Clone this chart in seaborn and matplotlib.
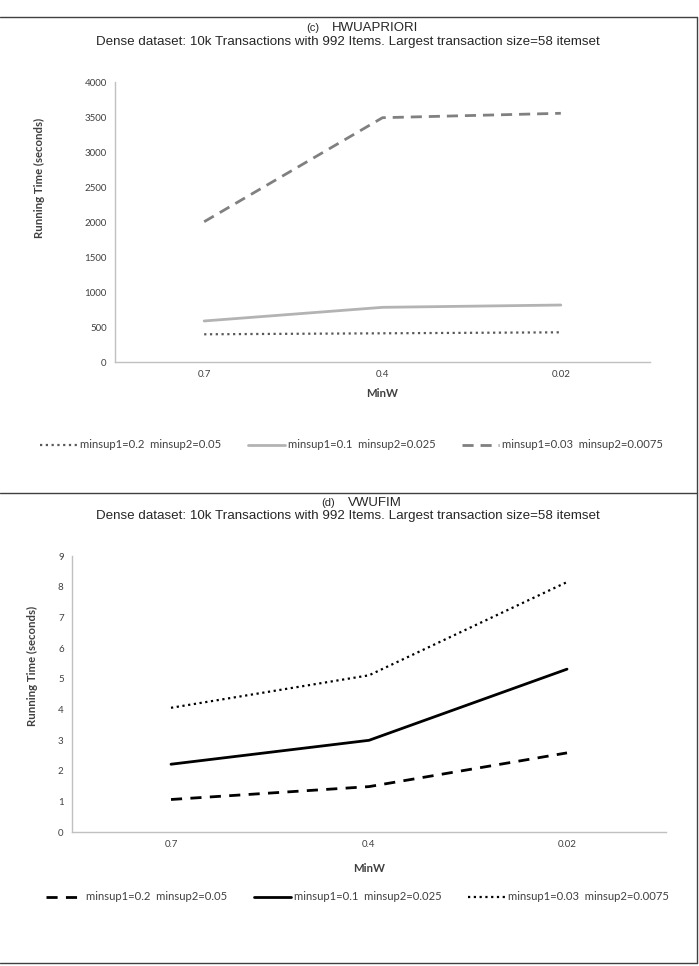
import pandas as pd
import matplotlib.pyplot as plt
import seaborn as sns
from matplotlib.lines import Line2D

# data
minw = ['0.7', '0.4', '0.02']
series_labels = ['minsup1=0.2  minsup2=0.05',
                 'minsup1=0.1  minsup2=0.025',
                 'minsup1=0.03  minsup2=0.0075']

hwu_times = [
    [396, 410, 424],
    [586, 781, 814],
    [2004, 3490, 3553],
]
vwu_times = [
    [1.06, 1.48, 2.58],
    [2.21, 2.99, 5.31],
    [4.05, 5.11, 8.15],
]

subtitle = 'Dense dataset: 10k Transactions with 992 Items. Largest transaction size=58 itemset'

sns.set_style('white')
plt.rcParams['font.family'] = ['Lato', 'DejaVu Sans']

fig = plt.figure(figsize=(6.99, 9.66), dpi=100)
W, H = 699, 966


def px_axes(x0, y_top, x1, y_bot):
    return fig.add_axes([x0 / W, 1 - y_bot / H, (x1 - x0) / W, (y_bot - y_top) / H])


def long_df(values):
    rows = []
    for lab, vals in zip(series_labels, values):
        for m, v in zip(minw, vals):
            rows.append({'MinW': m, 'time': v, 'series': lab})
    return pd.DataFrame(rows)


def style_axes(ax, ymax, ystep, ylab_xy, xpad):
    ax.set_xlim(-0.5, 2.5)
    ax.set_ylim(0, ymax)
    ax.set_yticks(range(0, ymax + 1, ystep))
    for s in ['top', 'right']:
        ax.spines[s].set_visible(False)
    for s in ['left', 'bottom']:
        ax.spines[s].set_color('#c0c0c0')
        ax.spines[s].set_linewidth(1)
    ax.tick_params(length=0, labelsize=7, labelcolor='#404040', pad=6)
    ax.set_xlabel('MinW', fontsize=8.2, fontweight='bold', color='#404040', labelpad=xpad)
    ax.set_ylabel('Running Time (seconds)', fontsize=8.2, fontweight='bold', color='#404040')
    ax.yaxis.set_label_coords(*ylab_xy)


def plot_panel(ax, values, styles):
    df = long_df(values)
    for lab, st in zip(series_labels, styles):
        sns.lineplot(data=df[df['series'] == lab], x='MinW', y='time', ax=ax,
                     sort=False, label=lab, **st)
    h, l = ax.get_legend_handles_labels()
    if ax.get_legend():
        ax.get_legend().remove()
    return h, l


# ---- top panel: HWUAPRIORI ----
ax1 = px_axes(115, 82, 650, 362)
top_styles = [
    dict(color='#595959', linestyle=(0, (1, 1.6)), linewidth=1.6),
    dict(color='#b3b3b3', linestyle='-', linewidth=2.0),
    dict(color='#808080', linestyle=(0, (4, 2.5)), linewidth=2.0),
]
h1, l1 = plot_panel(ax1, hwu_times, top_styles)
style_axes(ax1, 4000, 500, (-0.13, 0.657), 6.5)

# ---- bottom panel: VWUFIM ----
ax2 = px_axes(72, 556, 666, 832)
bot_styles = [
    dict(color='black', linestyle=(0, (4, 3)), linewidth=2.0),
    dict(color='black', linestyle='-', linewidth=2.0),
    dict(color='black', linestyle=(0, (1, 1.6)), linewidth=1.6),
]
h2, l2 = plot_panel(ax2, vwu_times, bot_styles)
style_axes(ax2, 9, 1, (-0.0566, 0.601), 9.5)

# legends
leg_kw = dict(ncol=3, frameon=False, fontsize=8.1, handlelength=3.3,
              columnspacing=2.3, handletextpad=0.3, loc='center left',
              borderpad=0, borderaxespad=0, labelcolor='#404040')
fig.legend(h1, l1, bbox_to_anchor=(40 / W, 1 - 445 / H), **leg_kw)
fig.legend(h2, l2, bbox_to_anchor=(46 / W, 1 - 897 / H), **leg_kw)

# titles
for y_a, y_b, tag, name, name_x in [(28, 42, '(c)', 'HWUAPRIORI', 332),
                                    (503, 516, '(d)', 'VWUFIM', 348)]:
    fig.text((name_x - 13) / W, 1 - y_a / H, tag, ha='right', va='center', fontsize=8,
             family='Liberation Sans')
    fig.text(name_x / W, 1 - y_a / H, name, ha='left', va='center', fontsize=9.5,
             family='Liberation Sans')
    fig.text(348 / W, 1 - y_b / H, subtitle, ha='center', va='center', fontsize=9.6,
             family='Liberation Sans')

# panel borders
for y in [17, 493, 963]:
    fig.add_artist(Line2D([0, 697 / W], [1 - y / H, 1 - y / H], color='#404040', linewidth=1))
fig.add_artist(Line2D([697 / W, 697 / W], [1 - 963 / H, 1 - 17 / H], color='#404040', linewidth=1))

plt.savefig('out.png', dpi=100)
